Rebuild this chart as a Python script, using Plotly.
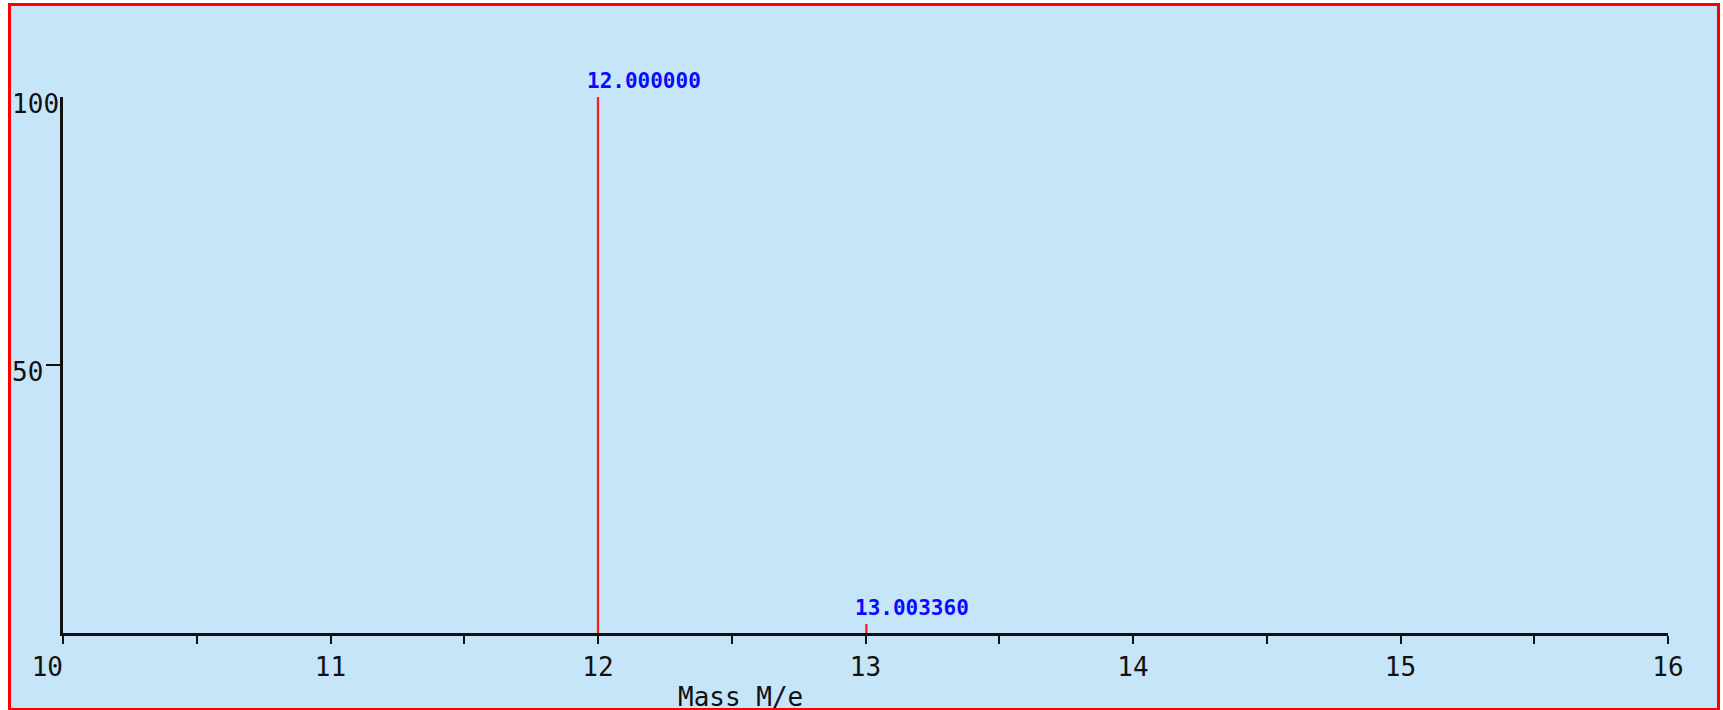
import plotly.graph_objects as go

# Isotope peaks: mass (M/e) and relative intensity (%)
peak_mass = [12.000000, 13.003360]
peak_intensity = [100.0, 1.7]

# Axis tick values and labels
x_ticks = [10, 11, 12, 13, 14, 15, 16]
x_tick_text = ["10  ", "11", "12", "13", "14", "15", "16"]
y_ticks = [50, 100]
y_tick_text = ["50 ", "100"]

W, H = 1723, 710
L, R, T, B = 63, 55, 97, 77
plot_w = W - L - R
plot_h = H - T - B

BG = "#c7e5f8"
AXIS = "#111111"
MONO = "DejaVu Sans Mono"

# stick spectrum: one vertical segment per peak
xs, ys = [], []
for m, v in zip(peak_mass, peak_intensity):
    xs += [m, m, None]
    ys += [0, v, None]

fig = go.Figure()
fig.add_trace(go.Scatter(
    x=xs, y=ys, mode="lines",
    line=dict(color="#ff1a1a", width=2.2),
    hoverinfo="skip", showlegend=False, cliponaxis=False,
))

# peak mass labels
for m, v in zip(peak_mass, peak_intensity):
    fig.add_annotation(
        x=m, y=v, xref="x", yref="y",
        text=f"<b>{m:.6f}</b>", showarrow=False,
        xanchor="left", yanchor="bottom", xshift=-13, yshift=2,
        font=dict(family=MONO, size=21, color="#0a0aff"),
    )

def px_x(p):
    return (p - L) / plot_w

def px_y(p):
    return (H - B - p) / plot_h

# framed panel background
fig.add_shape(
    type="rect", xref="paper", yref="paper",
    x0=px_x(9.5), x1=px_x(1718.5), y0=px_y(709.5), y1=px_y(4.5),
    line=dict(color="#ff0000", width=3), fillcolor=BG, layer="below",
)

# x axis title
fig.add_annotation(
    x=px_x(740), y=px_y(697), xref="paper", yref="paper",
    text="Mass M/e", showarrow=False, xanchor="center", yanchor="middle",
    font=dict(family=MONO, size=26, color=AXIS),
)

fig.update_layout(
    width=W, height=H,
    margin=dict(l=L, r=R, t=T, b=B, pad=0, autoexpand=False),
    paper_bgcolor="white", plot_bgcolor="rgba(0,0,0,0)",
    font=dict(family=MONO, size=26, color=AXIS),
    showlegend=False,
)
fig.update_xaxes(
    range=[10, 16], tickmode="array", tickvals=x_ticks, ticktext=x_tick_text,
    ticks="outside", ticklen=8, tickwidth=2, tickcolor=AXIS,
    showline=True, linewidth=2.5, linecolor=AXIS, automargin=False,
    showgrid=False, zeroline=False, ticklabelstandoff=1,
    minor=dict(tickmode="linear", tick0=10, dtick=0.5, ticks="outside",
               ticklen=8, tickwidth=2, tickcolor=AXIS, showgrid=False),
)
fig.update_yaxes(
    range=[0, 100], tickmode="array", tickvals=y_ticks, ticktext=y_tick_text,
    ticks="", showline=True, linewidth=2.5, linecolor=AXIS, automargin=False,
    showgrid=False, zeroline=False, ticklabelstandoff=-4, ticklabelshift=7,
    minor=dict(tickmode="array", tickvals=[50], ticks="outside",
               ticklen=14, tickwidth=2, tickcolor=AXIS, showgrid=False),
)

fig.write_html("out.html")
